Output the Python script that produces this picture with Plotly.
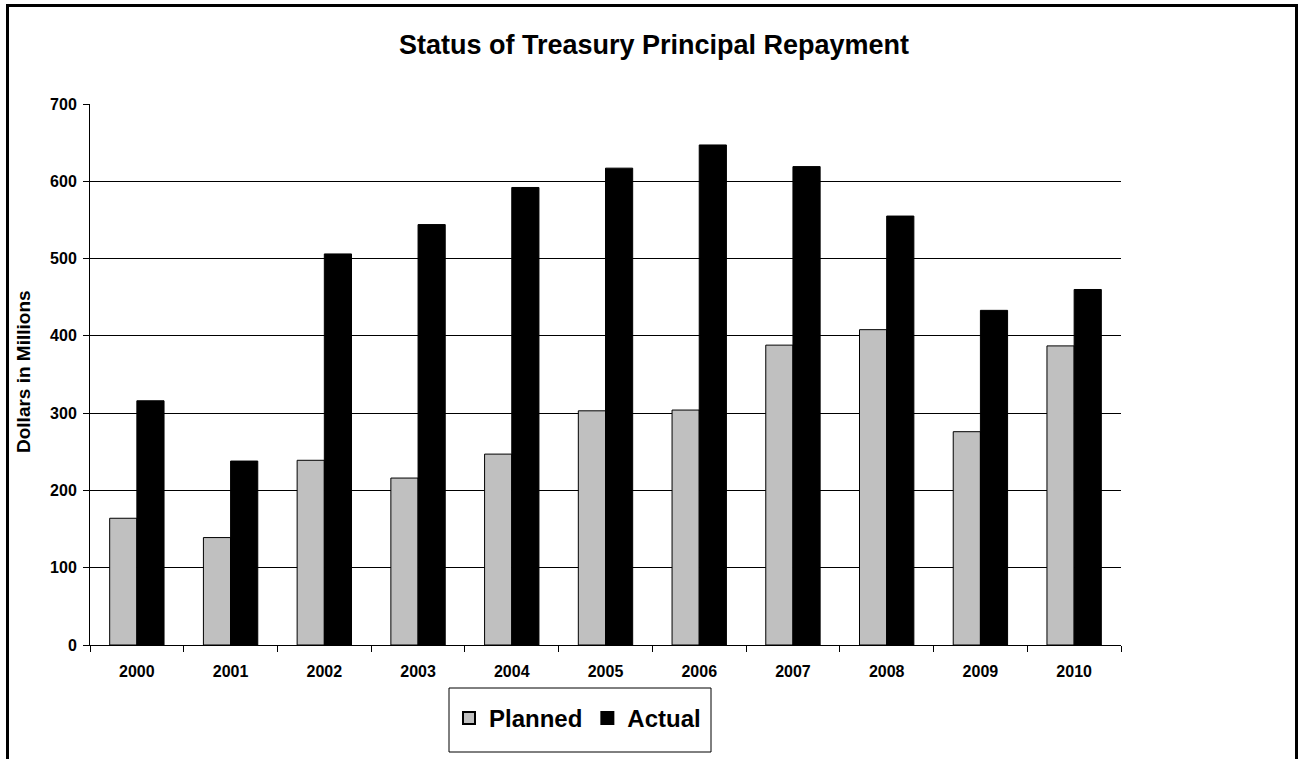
import plotly.graph_objects as go

years = ["2000", "2001", "2002", "2003", "2004", "2005", "2006", "2007", "2008", "2009", "2010"]
planned = [164, 139, 239, 216, 247, 303, 304, 388, 408, 276, 387]
actual = [316, 238, 506, 544, 592, 617, 647, 619, 555, 433, 460]
y_ticks = [0, 100, 200, 300, 400, 500, 600, 700]

FONT = "Arial, Liberation Sans, sans-serif"

fig = go.Figure()
fig.add_trace(go.Bar(name="Planned", x=years, y=planned,
                     marker=dict(color="#C0C0C0", line=dict(color="#000000", width=1))))
fig.add_trace(go.Bar(name="Actual", x=years, y=actual,
                     marker=dict(color="#000000", line=dict(color="#000000", width=1))))

# plot area: x 90..1121, y 104..645
L, R, T, B = 90, 1121, 104, 645
W, H = R - L, B - T

def px_x(p):
    return (p - L) / W

def px_y(p):
    return (B - p) / H

fig.update_layout(
    width=1299, height=759,
    margin=dict(l=L, r=1299 - R, t=T, b=759 - B),
    paper_bgcolor="white", plot_bgcolor="white",
    barmode="group", bargap=0.42, bargroupgap=0,
    font=dict(family=FONT, color="black"),
    title=dict(text="Status of Treasury Principal Repayment",
               font=dict(family=FONT, size=27, color="black", weight="bold"),
               x=654 / 1299, xanchor="center", xref="container", y=1 - 45 / 759, yanchor="middle"),
    xaxis=dict(type="category", showline=True, linecolor="black", linewidth=1,
               ticks="outside", tickson="boundaries", ticklen=6, tickcolor="black",
               ticklabelstandoff=12,
               tickfont=dict(family=FONT, size=16, color="black", weight="bold"),
               showgrid=False, fixedrange=True),
    yaxis=dict(range=[0, 700], tickvals=y_ticks, showline=True, linecolor="black", linewidth=1,
               ticks="outside", ticklen=6, tickcolor="black", ticklabelstandoff=3,
               tickfont=dict(family=FONT, size=16, color="black", weight="bold"),
               showgrid=True, gridcolor="black", gridwidth=1, zeroline=False, fixedrange=True),
    legend=dict(orientation="h", x=px_x(449), xanchor="left", y=px_y(696), yanchor="top",
                borderwidth=0, bgcolor="rgba(0,0,0,0)",
                font=dict(family=FONT, size=24, color="black", weight="bold"),
                itemsizing="constant", traceorder="normal"),
    showlegend=True,
)

fig.add_annotation(text="Dollars in Millions", textangle=-90, showarrow=False,
                   xref="paper", yref="paper", x=px_x(23), y=px_y(372),
                   xanchor="center", yanchor="middle",
                   font=dict(family=FONT, size=19, color="black", weight="bold"))

# legend box
fig.add_shape(type="rect", xref="paper", yref="paper",
              x0=px_x(449), x1=px_x(711), y0=px_y(752), y1=px_y(688),
              line=dict(color="black", width=1), fillcolor="rgba(0,0,0,0)", layer="above")

# outer frame
fig.add_shape(type="rect", xref="paper", yref="paper",
              x0=px_x(7.5), x1=px_x(1296.5), y0=px_y(800), y1=px_y(5.5),
              line=dict(color="black", width=3), fillcolor="rgba(0,0,0,0)", layer="above")

fig.write_html("out.html", config={"displayModeBar": False},
               post_script="document.body.style.margin='0';document.body.style.overflow='hidden';")
